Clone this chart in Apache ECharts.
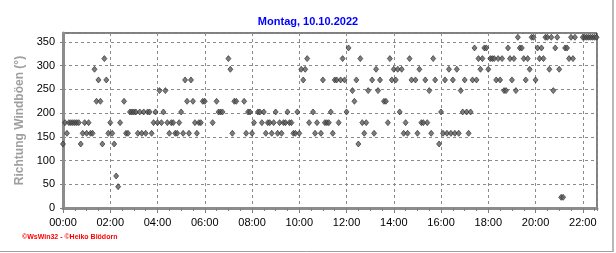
<!DOCTYPE html>
<html><head><meta charset="utf-8">
<script src="https://cdn.jsdelivr.net/npm/echarts@6/dist/echarts.min.js"></script>
<style>html,body{margin:0;padding:0;background:#fff}#c{width:616px;height:253px}</style>
</head><body><div id="c"></div>
<script>
// Title / labels
const chartTitle = 'Montag, 10.10.2022';
const yAxisName = 'Richtung Windböen (°)';
const footer = '©WsWin32 - ©Heiko Blödorn';
const xTickLabels = ['00:00','02:00','04:00','06:00','08:00','10:00','12:00','14:00','16:00','18:00','20:00','22:00'];
const yTicks = [0,50,100,150,200,250,300,350];
const sampleStepMin = 5;  // one reading every 5 minutes, starting 00:00 (null = no reading)

// gust direction (°), 00:00 - 05:55
const dirs00 = [135,180,157.5,180,180,180,180,180,180,135,157.5,180,157.5,180,157.5,157.5,
  292.5,225,270,225,135,315,270,157.5,180,157.5,135,67.5,45,180,null,225,
  157.5,157.5,202.5,202.5,202.5,202.5,157.5,202.5,157.5,202.5,157.5,202.5,202.5,157.5,180,202.5,
  180,247.5,180,202.5,247.5,180,157.5,180,180,157.5,157.5,180,202.5,157.5,270,225,
  157.5,270,225,180,157.5,180,180,225];
// 06:00 - 11:55
const dirs06 = [225,null,null,null,180,null,225,202.5,
  202.5,202.5,null,null,315,292.5,157.5,225,225,null,null,null,225,157.5,202.5,202.5,
  157.5,180,null,202.5,202.5,180,202.5,157.5,180,180,157.5,180,202.5,157.5,180,157.5,
  180,180,202.5,180,180,157.5,157.5,202.5,157.5,292.5,270,292.5,315,180,null,202.5,
  157.5,180,null,157.5,270,180,180,180,202.5,157.5,270,270,180,270,315,270];
// 12:00 - 17:55
const dirs12 = [202.5,337.5,null,247.5,225,270,135,315,180,157.5,180,247.5,null,270,157.5,292.5,
  247.5,270,null,225,225,180,315,270,292.5,270,292.5,202.5,292.5,157.5,180,157.5,
  315,270,null,270,157.5,292.5,180,180,270,180,247.5,157.5,315,270,null,135,
  202.5,157.5,270,157.5,292.5,157.5,270,157.5,292.5,157.5,247.5,202.5,270,202.5,157.5,202.5,
  270,337.5,270,315,292.5,315,337.5,337.5];
// 18:00 - 22:35
const dirs18 = [292.5,315,315,315,270,315,270,315,247.5,247.5,337.5,315,270,315,247.5,360,
  337.5,337.5,315,270,315,292.5,360,360,270,337.5,315,337.5,315,360,360,292.5,
  360,247.5,337.5,360,292.5,22.5,22.5,337.5,337.5,315,360,315,360,null,null,null,
  360,360,360,360,360,360,360,360];

const allDirs = dirs00.concat(dirs06, dirs12, dirs18);
const points = [];
allDirs.forEach((v, i) => { if (v !== null) points.push([i * sampleStepMin, v]); });

const FONT = '"Liberation Sans", Arial, sans-serif';
const chart = echarts.init(document.getElementById('c'), null, {renderer: 'canvas'});
const xMax = 1356;
chart.setOption({
  animation: false,
  backgroundColor: '#ffffff',
  title: {
    text: chartTitle, left: 'center', top: 11,
    textStyle: {color: '#0000ff', fontSize: 11, fontWeight: 'bold', fontFamily: FONT}
  },
  grid: {left: 63, right: 19, top: 33, bottom: 45, show: true, borderColor: '#000', borderWidth: 1},
  xAxis: [{
    type: 'value', min: 0, max: xMax, interval: 120,
    axisLine: {show: true, onZero: false, lineStyle: {color: '#8c8c8c', width: 3}},
    axisTick: {show: true, length: 5, lineStyle: {color: '#808080'}},
    splitLine: {show: true, lineStyle: {color: '#8a8a8a', type: [3, 3], width: 1}},
    axisLabel: {
      color: '#000', fontSize: 11, fontFamily: FONT, margin: 9, showMaxLabel: false,
      formatter: v => (v % 120 === 0 ? xTickLabels[v / 120] : '')
    }
  }, {
    type: 'value', min: 0, max: xMax, interval: 30, position: 'bottom',
    axisLine: {show: false}, splitLine: {show: false}, axisLabel: {show: false},
    axisTick: {show: true, length: 3, lineStyle: {color: '#808080'}}
  }],
  yAxis: {
    type: 'value', min: 0, max: 369, interval: 50,
    name: yAxisName, nameLocation: 'middle', nameGap: 30,
    nameTextStyle: {color: '#a0a0a0', fontSize: 12, fontWeight: 'bold', fontFamily: FONT},
    axisLine: {show: true, onZero: false, lineStyle: {color: '#8c8c8c', width: 3}},
    axisTick: {show: true, length: 3, lineStyle: {color: '#808080'}},
    splitLine: {show: true, lineStyle: {color: '#8a8a8a', type: [3, 3], width: 1}},
    axisLabel: {
      color: '#000', fontSize: 11, fontFamily: FONT, margin: 8, showMaxLabel: false,
      formatter: v => (yTicks.indexOf(v) >= 0 ? String(v) : '')
    }
  },
  series: [{
    type: 'scatter', xAxisIndex: 0, symbol: 'diamond', symbolSize: [5, 6],
    data: points,
    itemStyle: {color: '#5c5c5c', borderColor: '#262626', borderWidth: 0.8}
  }],
  graphic: [
    {type: 'text', left: 22, top: 234, style: {text: footer, fill: '#ff0000', font: 'bold 7px ' + FONT}},
    {type: 'line', shape: {x1: 613, y1: 0, x2: 613, y2: 252}, style: {stroke: '#a0a0a0', lineWidth: 1.5}},
    {type: 'line', shape: {x1: 0, y1: 251.5, x2: 613, y2: 251.5}, style: {stroke: '#a0a0a0', lineWidth: 1}}
  ]
});
</script></body></html>
